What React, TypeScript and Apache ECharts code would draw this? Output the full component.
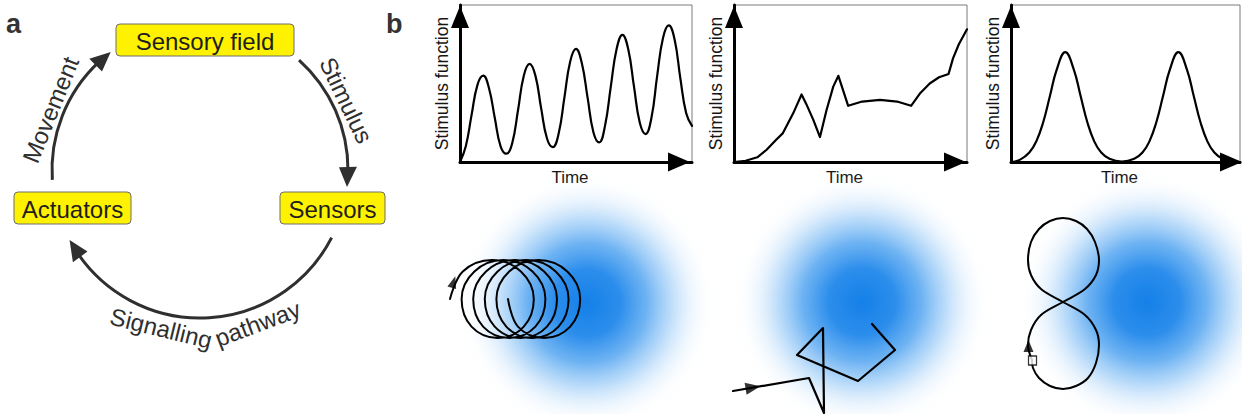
import React, { useEffect, useRef } from "react";
import * as echarts from "echarts";

// ---------------- Data ----------------
const panelLabels = ["a", "b"];
const cycleNodes = ["Sensory field", "Sensors", "Actuators"];
const cycleLinks = ["Stimulus", "Signalling", "pathway", "Movement"];
const yAxisName = "Stimulus function";
const xAxisName = "Time";

// top plots: [time, stimulus] on a 0..100 scale
const periodicStimulus = [
  [0, 0], [2.5, 10], [5, 30], [7.5, 49], [10, 55], [12.5, 47], [15, 28], [17.5, 10], [20, 5.3],
  [22.5, 12], [25, 33], [27.5, 55], [30, 62.5], [32.5, 55], [35, 34], [37.5, 15], [40, 9.5],
  [42.5, 18], [45, 41], [47.5, 64], [50, 72], [52.5, 63], [55, 41], [57.5, 19], [60, 12.5],
  [62.5, 23], [65, 48], [67.5, 72], [70, 81], [72.5, 72], [75, 48], [77.5, 25], [80, 17.8],
  [82.5, 28], [85, 55], [87.5, 79], [90, 87], [92.5, 78], [95, 53], [97.5, 31], [100, 23],
];
const irregularStimulus = [
  [0, 0], [5, 0.8], [10, 3], [14, 7.8], [18, 14], [21, 18.4], [25.4, 31], [29, 43],
  [31, 37], [34, 27], [36.9, 15.9], [39.7, 33], [42.6, 48], [44.8, 54.9], [49, 35.8],
  [55, 38.5], [62.7, 39.6], [70, 38.5], [76, 35.8], [80, 44], [84, 50], [88, 54],
  [92.1, 56.1], [94, 66], [96.5, 75], [100, 84.5],
];
const twoPeakStimulus = [
  [0, 0], [4, 1.5], [8, 6], [11, 13], [14, 25], [17, 42], [20, 59], [23.7, 70], [27.4, 59],
  [30.4, 42], [33.4, 25], [36.4, 13], [39.4, 6], [43, 2], [48.4, 0.3], [53.8, 2], [57.4, 6],
  [60.4, 13], [63.4, 25], [66.4, 42], [69.4, 59], [73.1, 70], [76.8, 59], [79.8, 42],
  [82.8, 25], [85.8, 13], [88.8, 6], [92.4, 2], [97, 0.2], [100, 0],
];

// bottom panels: trajectories relative to the stimulus source (y up)
const sourcePosition = [0, 0];
const spiralPath = [
  [-137, 4], [-124.2, 31.6], [-95.1, 43], [-66.1, 31.6], [-53.2, 4], [-63.2, -23.6], [-89.3, -35], [-115.5, -23.6],
  [-125.4, 4], [-112.6, 31.6], [-83.5, 43], [-54.5, 31.6], [-41.6, 4], [-51.6, -23.6], [-77.7, -35], [-103.9, -23.6],
  [-113.8, 4], [-101, 31.6], [-71.9, 43], [-42.9, 31.6], [-30, 4], [-40, -23.6], [-66.1, -35], [-92.3, -23.6],
  [-102.2, 4], [-89.4, 31.6], [-60.3, 43], [-31.3, 31.6], [-18.4, 4], [-28.4, -23.6], [-54.5, -35], [-80.7, -23.6],
  [-90.6, 4], [-77.8, 31.6], [-48.7, 43], [-19.7, 31.6], [-6.8, 4], [-16.8, -23.6], [-42.9, -35], [-69.1, -23.6],
  [-79, 4],
];
const spiralArrow = [-133.5, 21];
const zigzagPath = [
  [-129, -89], [-53, -76], [-38, -111], [-39, -26], [-65, -53], [-4, -79], [33, -48], [10, -22],
];
const zigzagArrow = [-109, -85.5];
const figureEightPath = [
  [-115, -58], [-119, -43], [-116, -28], [-106, -13], [-84, 0], [-62, 13], [-51, 27], [-48, 42],
  [-52, 60], [-60, 73], [-71, 81], [-84, 84], [-97, 81], [-108, 73], [-116, 60], [-119, 42],
  [-116, 27], [-106, 13], [-84, 0], [-62, -13], [-51, -28], [-48, -43], [-51, -61], [-59, -76],
  [-71, -84], [-84, -87], [-97, -84], [-108, -76], [-114, -66], [-115, -58],
];
const figureEightArrow = [-118.5, -44];
const figureEightStart = [-114.5, -58.5];

// ---------------- Styling / layout ----------------
const FONT = '"Liberation Sans", Arial, Helvetica, sans-serif';
const INK = "#2f2f2f";
const YELLOW = "#FFF200";
const CYCLE = { x: 200, y: 170, r: 148 };

const rad = (d: number) => (d * Math.PI) / 180;
const onCircle = (d: number, r: number) => [CYCLE.x + r * Math.cos(rad(d)), CYCLE.y + r * Math.sin(rad(d))];

function arrowArc(startDeg: number, tipDeg: number) {
  const headLen = 20;
  const headHalf = 9;
  const baseDeg = tipDeg - (headLen / CYCLE.r) * (180 / Math.PI);
  return [
    {
      type: "arc",
      shape: { cx: CYCLE.x, cy: CYCLE.y, r: CYCLE.r, startAngle: rad(startDeg), endAngle: rad(baseDeg + 1.5), clockwise: true },
      style: { stroke: INK, lineWidth: 3, fill: "none" },
    },
    {
      type: "polygon",
      shape: { points: [onCircle(tipDeg, CYCLE.r), onCircle(baseDeg, CYCLE.r + headHalf), onCircle(baseDeg, CYCLE.r - headHalf)] },
      style: { fill: INK },
    },
  ];
}

function arcText(text: string, deg: number, r: number, clockwiseReading: boolean) {
  const [x, y] = onCircle(deg, r);
  const c = Math.cos(rad(deg));
  const s = Math.sin(rad(deg));
  const rotation = clockwiseReading ? Math.atan2(-c, -s) : Math.atan2(c, s);
  return {
    type: "text",
    x,
    y,
    rotation,
    style: { text, fill: INK, fontSize: 24, fontFamily: FONT, align: "center", verticalAlign: "middle" },
  };
}

function nodeBox(text: string, x: number, y: number, w: number, h: number) {
  return [
    { type: "rect", shape: { x, y, width: w, height: h, r: 4 }, style: { fill: YELLOW, stroke: "#6e6e6e", lineWidth: 1 } },
    {
      type: "text",
      x: x + w / 2,
      y: y + h / 2 + 1,
      style: { text, fill: "#1e1e1e", fontSize: 24, fontFamily: FONT, align: "center", verticalAlign: "middle" },
    },
  ];
}

const plotFrames = [
  { left: 460, width: 232, arrowOffset: -13 },
  { left: 734, width: 233, arrowOffset: -12 },
  { left: 1011, width: 229, arrowOffset: -9 },
];
const fieldCenters = [
  [587, 303],
  [862, 302],
  [1147, 302],
];

const blobGradient = {
  type: "radial",
  x: 0.5,
  y: 0.5,
  r: 0.5,
  colorStops: [
    { offset: 0, color: "rgba(20,128,232,1)" },
    { offset: 0.25, color: "rgba(28,133,234,0.93)" },
    { offset: 0.45, color: "rgba(55,150,238,0.72)" },
    { offset: 0.62, color: "rgba(100,175,243,0.45)" },
    { offset: 0.78, color: "rgba(165,208,248,0.2)" },
    { offset: 0.9, color: "rgba(225,240,253,0.06)" },
    { offset: 1, color: "rgba(255,255,255,0)" },
  ],
};

function buildOption() {
  const graphic: any[] = [
    ...arrowArc(176.2, 232.9),
    ...arrowArc(312, 366.6),
    ...arrowArc(27.2, 151.8),
    arcText(cycleLinks[3], 202, 161, true),
    arcText(cycleLinks[0], 334.5, 162, true),
    arcText(cycleLinks[1], 103.8, 163, false),
    arcText(cycleLinks[2], 69.4, 164, false),
    ...nodeBox(cycleNodes[0], 116, 24, 178, 32),
    ...nodeBox(cycleNodes[1], 280, 192, 105, 32),
    ...nodeBox(cycleNodes[2], 14, 192, 117, 32),
    {
      type: "text",
      x: 6,
      y: 23.6,
      style: { text: panelLabels[0], fill: "#333", fontSize: 27, fontWeight: "bold", fontFamily: FONT, align: "left", verticalAlign: "middle" },
    },
    {
      type: "text",
      x: 386,
      y: 23.6,
      style: { text: panelLabels[1], fill: "#333", fontSize: 27, fontWeight: "bold", fontFamily: FONT, align: "left", verticalAlign: "middle" },
    },
  ];

  const grid: any[] = [];
  const xAxis: any[] = [];
  const yAxis: any[] = [];

  plotFrames.forEach((f, i) => {
    grid.push({
      left: f.left,
      top: 5,
      width: f.width,
      height: 157,
      show: true,
      borderColor: "#7a7a7a",
      borderWidth: 1,
      backgroundColor: "transparent",
      containLabel: false,
      outerBoundsMode: "none",
    });
    xAxis.push({
      gridIndex: i,
      type: "value",
      min: 0,
      max: 100,
      name: xAxisName,
      nameLocation: "middle",
      nameGap: 7,
      nameTextStyle: { fontSize: 17, color: "#151515", fontFamily: FONT, padding: [0, 12, 0, 0] },
      axisLine: {
        show: true,
        onZero: false,
        symbol: ["none", "triangle"],
        symbolSize: [19, 22],
        symbolOffset: [0, f.arrowOffset],
        lineStyle: { color: "#000", width: 3 },
      },
      axisTick: { show: false },
      axisLabel: { show: false },
      splitLine: { show: false },
    });
    yAxis.push({
      gridIndex: i,
      type: "value",
      min: 0,
      max: 100,
      name: yAxisName,
      nameLocation: "middle",
      nameGap: 9.5,
      nameTextStyle: { fontSize: 17.5, color: "#151515", fontFamily: FONT },
      axisLine: {
        show: true,
        onZero: false,
        symbol: ["none", "triangle"],
        symbolSize: [18, 22],
        symbolOffset: [0, -12],
        lineStyle: { color: "#000", width: 3 },
      },
      axisTick: { show: false },
      axisLabel: { show: false },
      splitLine: { show: false },
    });
  });

  fieldCenters.forEach(([cx, cy], j) => {
    const i = j + 3;
    grid.push({ left: cx - 150, top: cy - 120, width: 300, height: 240, show: false, containLabel: false, outerBoundsMode: "none" });
    xAxis.push({ gridIndex: i, type: "value", min: -150, max: 150, show: false });
    yAxis.push({ gridIndex: i, type: "value", min: -120, max: 120, show: false });
  });

  const curve = (i: number, data: number[][], smooth: number | boolean, width = 2.2) => ({
    type: "line",
    xAxisIndex: i,
    yAxisIndex: i,
    data,
    smooth,
    symbol: "none",
    showSymbol: false,
    clip: false,
    silent: true,
    z: 3,
    lineStyle: { color: "#000", width, cap: "round", join: "round" },
  });

  const blob = (i: number) => ({
    type: "scatter",
    xAxisIndex: i,
    yAxisIndex: i,
    data: [sourcePosition],
    symbol: "circle",
    symbolSize: 268,
    itemStyle: { color: blobGradient, opacity: 1 },
    silent: true,
    z: 1,
  });

  const marker = (i: number, pos: number[], symbol: string, size: number[], rotate: number, hollow = false) => ({
    type: "scatter",
    xAxisIndex: i,
    yAxisIndex: i,
    data: [pos],
    symbol,
    symbolSize: size,
    symbolRotate: rotate,
    itemStyle: hollow ? { color: "#fff", borderColor: "#000", borderWidth: 1.3 } : { color: "#000" },
    silent: true,
    z: 5,
  });

  const series: any[] = [
    curve(0, periodicStimulus, 0.45),
    curve(1, irregularStimulus, false),
    curve(2, twoPeakStimulus, 0.45),
    blob(3),
    blob(4),
    blob(5),
    curve(3, spiralPath, 0.37, 2),
    curve(4, zigzagPath, false, 2.2),
    curve(5, figureEightPath, 0.35, 2),
    marker(3, spiralArrow, "triangle", [9, 12], -17),
    marker(4, zigzagArrow, "triangle", [12, 15], -80.3),
    marker(5, figureEightArrow, "triangle", [10, 12], 0),
    marker(5, figureEightStart, "rect", [8, 9], 0, true),
  ];

  return {
    animation: false,
    backgroundColor: "#ffffff",
    textStyle: { fontFamily: FONT },
    tooltip: { show: false },
    grid,
    xAxis,
    yAxis,
    series,
    graphic,
  };
}

export default function App() {
  const ref = useRef<HTMLDivElement>(null);
  useEffect(() => {
    document.body.style.margin = "0";
    const chart = echarts.init(ref.current as HTMLDivElement, undefined, { renderer: "svg" });
    chart.setOption(buildOption() as any);
    return () => chart.dispose();
  }, []);
  return <div ref={ref} style={{ width: 1242, height: 414 }} />;
}
